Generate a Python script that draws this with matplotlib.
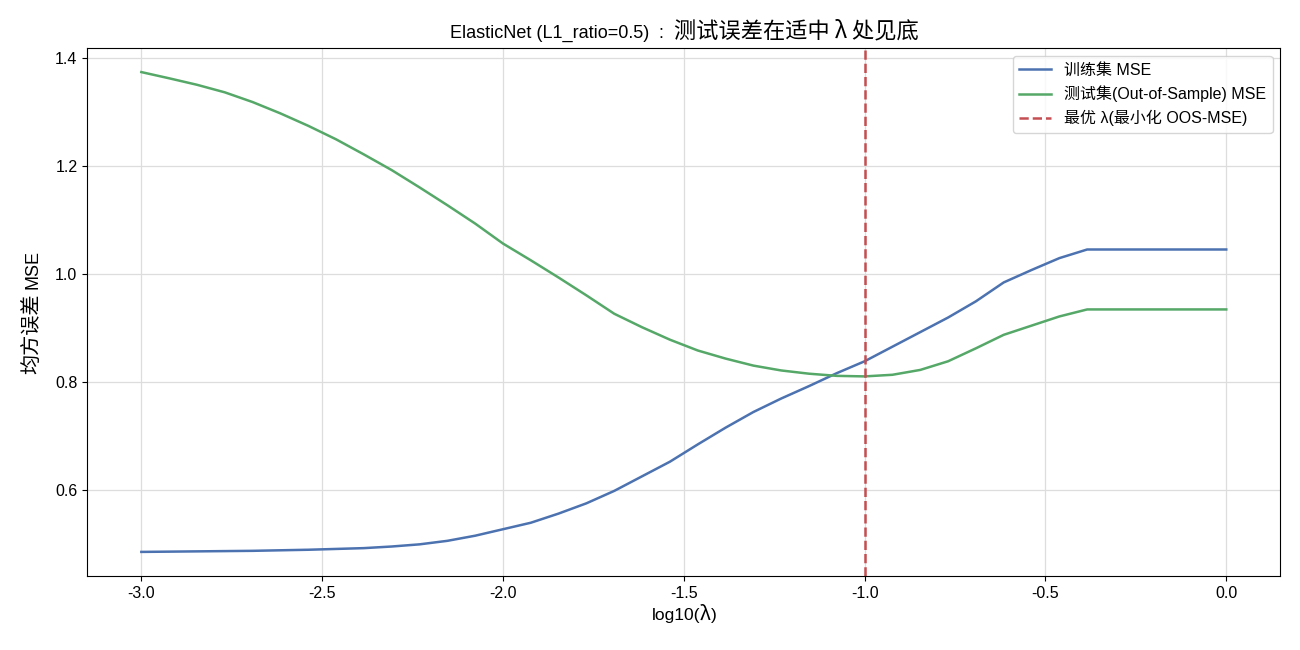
import numpy as np
import matplotlib
matplotlib.use('Agg')
import matplotlib.pyplot as plt

LAT = ['Liberation Sans', 'Noto Sans CJK SC', 'DejaVu Sans']
CJK = ['Noto Sans CJK SC', 'Liberation Sans', 'DejaVu Sans']
plt.rcParams['font.family'] = LAT
plt.rcParams['axes.unicode_minus'] = False

# data
log_lambda = np.linspace(-3, 0, 40)
train_mse = [0.485, 0.4855, 0.486, 0.4865, 0.487, 0.488, 0.489, 0.4905, 0.492, 0.495,
             0.499, 0.5055, 0.515, 0.527, 0.539, 0.556, 0.575, 0.598, 0.625, 0.652,
             0.684, 0.715, 0.744, 0.769, 0.792, 0.816, 0.838, 0.865, 0.892, 0.919,
             0.949, 0.984, 1.007, 1.029, 1.045, 1.045, 1.045, 1.045, 1.045, 1.045]
test_mse = [1.3735, 1.362, 1.350, 1.336, 1.318, 1.297, 1.274, 1.249, 1.221, 1.192,
            1.160, 1.127, 1.093, 1.056, 1.025, 0.993, 0.960, 0.926, 0.901, 0.878,
            0.858, 0.843, 0.830, 0.821, 0.815, 0.811, 0.810, 0.813, 0.822, 0.838,
            0.862, 0.887, 0.904, 0.921, 0.934, 0.934, 0.934, 0.934, 0.934, 0.934]
best_log_lambda = log_lambda[int(np.argmin(test_mse))]

W, H = 1300, 650
fig, ax = plt.subplots(figsize=(W / 100, H / 100), dpi=100)
fig.subplots_adjust(left=0.067, right=0.985, top=0.926, bottom=0.114)


def mixed_text(cx, cy, parts, vertical=False):
    # parts: (text, fontsize, family, gap after in px); cx, cy = baseline / centre in px from top-left
    texts = [fig.text(0, 0, s, fontsize=size, family=fam, ha='left', va='baseline',
                      rotation=90 if vertical else 0, rotation_mode='anchor')
             for s, size, fam, gap in parts]
    r = fig.canvas.get_renderer()
    lens = [t.get_window_extent(r).height if vertical else t.get_window_extent(r).width for t in texts]
    total = sum(lens) + sum(p[3] for p in parts[:-1])
    if vertical:
        pos = cy + total / 2          # bottom end, stack upwards
        for t, l, p in zip(texts, lens, parts):
            t.set_position((cx / W, (H - pos) / H))
            pos -= l + p[3]
    else:
        pos = cx - total / 2
        for t, l, p in zip(texts, lens, parts):
            t.set_position((pos / W, (H - cy) / H))
            pos += l + p[3]


ax.plot(log_lambda, train_mse, color='#4C72B0', lw=1.8, label='训练集 MSE')
ax.plot(log_lambda, test_mse, color='#55A868', lw=1.8, label='测试集(Out-of-Sample) MSE')
ax.axvline(best_log_lambda, color='#C44E52', ls='--', lw=1.8, label='最优 λ(最小化 OOS-MSE)')

ax.grid(True, color='#dddddd', lw=0.9)
ax.set_axisbelow(True)
ax.tick_params(labelsize=11.5)
ax.legend(loc='upper right', fontsize=11.5)

mixed_text(684, 37.5, [('ElasticNet (L1_ratio=0.5)', 13, LAT, 10), (':', 13, LAT, 10),
                       ('测试误差在适中 λ 处见底', 16, CJK, 0)])
mixed_text(684, 620, [('log10(', 12.5, LAT, 0), ('λ', 14, CJK, 0), (')', 12.5, LAT, 0)])
mixed_text(37.5, 312, [('均方误差', 14.5, CJK, 5), ('MSE', 13, LAT, 0)], vertical=True)

fig.savefig('out.png')
